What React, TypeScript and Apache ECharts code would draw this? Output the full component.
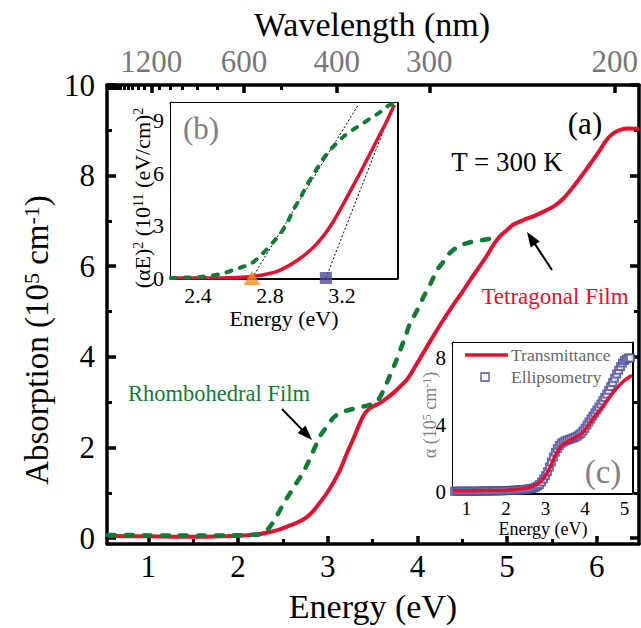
import React, { useEffect, useRef } from 'react';
import * as echarts from 'echarts';

// ---------- data ----------
const energyTicks = [1, 2, 3, 4, 5, 6];
const energyMinorTicks = [1.5, 2.5, 3.5, 4.5, 5.5];
const absTicks = [0, 2, 4, 6, 8, 10];
const absMinorTicks = [1, 3, 5, 7, 9];
const waveLabels = [1200, 600, 400, 300, 200];
const waveMinor = [2200, 2100, 2000, 1900, 1800, 1700, 1600, 1500, 1400, 1300, 1100, 1000, 900, 800, 700, 500];

const tetragonal = [
  [0.55, 0.05], [0.8, 0.04], [1.0, 0.04], [1.3, 0.03], [1.6, 0.03], [1.8, 0.04], [2.0, 0.05], [2.2, 0.08],
  [2.32, 0.12], [2.45, 0.18], [2.54, 0.25], [2.62, 0.31], [2.69, 0.37], [2.77, 0.47], [2.84, 0.6], [2.92, 0.8],
  [2.99, 0.99], [3.07, 1.25], [3.14, 1.51], [3.22, 1.9], [3.29, 2.21], [3.34, 2.45], [3.38, 2.63], [3.42, 2.77],
  [3.46, 2.85], [3.52, 2.92], [3.58, 2.98], [3.66, 3.09], [3.73, 3.2], [3.8, 3.33], [3.88, 3.49], [3.95, 3.7],
  [4.03, 3.97], [4.12, 4.27], [4.22, 4.6], [4.31, 4.88], [4.4, 5.15], [4.5, 5.43], [4.59, 5.7], [4.68, 5.96],
  [4.77, 6.22], [4.85, 6.48], [4.92, 6.66], [5.0, 6.8], [5.07, 6.92], [5.18, 7.02], [5.29, 7.1], [5.4, 7.2],
  [5.52, 7.32], [5.63, 7.5], [5.74, 7.76], [5.85, 8.05], [5.96, 8.35], [6.04, 8.58], [6.11, 8.79], [6.18, 8.93],
  [6.26, 9.01], [6.35, 9.04], [6.47, 9.03],
];
const rhombohedral = [
  [0.55, 0.07], [0.8, 0.07], [1.0, 0.06], [1.3, 0.06], [1.6, 0.06], [1.9, 0.06], [2.1, 0.07], [2.25, 0.08],
  [2.31, 0.15], [2.36, 0.26], [2.43, 0.48], [2.51, 0.77], [2.58, 0.99], [2.65, 1.21], [2.72, 1.43], [2.78, 1.66],
  [2.83, 1.88], [2.88, 2.1], [2.93, 2.3], [2.99, 2.46], [3.06, 2.65], [3.14, 2.77], [3.22, 2.82], [3.32, 2.87],
  [3.45, 2.93], [3.55, 3.02], [3.62, 3.25], [3.69, 3.57], [3.75, 3.85], [3.81, 4.16], [3.87, 4.47], [3.92, 4.75],
  [3.99, 5.0], [4.07, 5.33], [4.15, 5.63], [4.22, 5.92], [4.29, 6.1], [4.36, 6.29], [4.47, 6.45], [4.59, 6.53],
  [4.7, 6.57], [4.8, 6.6], [4.9, 6.64],
];

// inset (b): (alpha E)^2
const insetBTicksX = [2.4, 2.6, 2.8, 3.0, 3.2, 3.4];
const insetBLabelsX = [2.4, 2.8, 3.2];
const insetBTicksY = [0, 1.5, 3, 4.5, 6, 7.5, 9];
const insetBLabelsY = [0, 3, 6, 9];
const insetBTetragonal = [
  [2.25, 0], [2.4, 0], [2.55, 0.01], [2.62, 0.03], [2.7, 0.09], [2.77, 0.2], [2.84, 0.38], [2.9, 0.68],
  [2.95, 1.0], [3.0, 1.38], [3.05, 1.85], [3.1, 2.45], [3.15, 3.2], [3.2, 4.1], [3.25, 5.05], [3.3, 6.0],
  [3.35, 7.0], [3.4, 8.0], [3.45, 9.0], [3.49, 9.9],
];
const insetBRhombohedral = [
  [2.25, 0], [2.35, 0.03], [2.42, 0.07], [2.47, 0.13], [2.54, 0.27], [2.6, 0.47], [2.66, 0.68], [2.7, 0.86],
  [2.74, 1.2], [2.78, 1.62], [2.82, 2.08], [2.86, 2.57], [2.9, 3.25], [2.93, 3.9], [2.97, 4.6], [3.0, 5.23],
  [3.04, 5.9], [3.08, 6.57], [3.12, 7.15], [3.17, 7.71], [3.21, 8.1], [3.26, 8.47], [3.31, 8.8], [3.36, 9.14],
  [3.41, 9.47], [3.45, 9.8], [3.49, 10],
];
const tangentRhombo = [[2.7, 0], [3.29, 9.9]];
const tangentTetra = [[3.11, 0], [3.49, 10]];
const gapRhombo = [[2.7, 0]];
const gapTetra = [[3.11, 0]];

// inset (c): alpha
const insetCTicksX = [1, 1.5, 2, 2.5, 3, 3.5, 4, 4.5, 5];
const insetCLabelsX = [1, 2, 3, 4, 5];
const insetCTicksY = [0, 2, 4, 6, 8];
const insetCLabelsY = [0, 4, 8];
const transmittance = [
  [0.66, 0.08], [1.0, 0.08], [1.35, 0.1], [1.8, 0.1], [2.2, 0.15], [2.53, 0.24], [2.7, 0.38], [2.83, 0.54],
  [2.94, 0.8], [3.04, 1.13], [3.15, 1.65], [3.25, 2.2], [3.34, 2.55], [3.42, 2.8], [3.55, 3.0], [3.71, 3.2],
  [3.82, 3.35], [3.92, 3.5], [4.06, 3.9], [4.21, 4.4], [4.36, 4.85], [4.51, 5.3], [4.65, 5.75], [4.8, 6.2],
  [4.97, 6.6], [5.14, 6.9], [5.19, 6.95],
];
const ellipsometry = [
  [0.7, 0.05], [0.75, 0.05], [0.8, 0.05], [0.85, 0.05], [0.9, 0.05], [0.95, 0.05], [1.0, 0.05], [1.05, 0.05],
  [1.1, 0.05], [1.15, 0.05], [1.2, 0.06], [1.25, 0.06], [1.3, 0.06], [1.35, 0.07], [1.4, 0.07], [1.45, 0.07],
  [1.5, 0.07], [1.55, 0.07], [1.6, 0.07], [1.65, 0.07], [1.7, 0.08], [1.75, 0.08], [1.8, 0.08], [1.85, 0.08],
  [1.9, 0.09], [1.95, 0.09], [2.0, 0.1], [2.05, 0.1], [2.1, 0.1], [2.15, 0.11], [2.2, 0.11], [2.25, 0.12],
  [2.3, 0.13], [2.35, 0.14], [2.4, 0.15], [2.45, 0.16], [2.5, 0.17], [2.55, 0.18], [2.6, 0.2], [2.65, 0.22],
  [2.7, 0.25], [2.75, 0.3], [2.8, 0.37], [2.85, 0.46], [2.9, 0.6], [2.95, 0.78], [3.0, 0.98], [3.05, 1.22],
  [3.1, 1.5], [3.15, 1.8], [3.2, 2.1], [3.25, 2.38], [3.3, 2.6], [3.35, 2.78], [3.4, 2.92], [3.45, 3.0],
  [3.5, 3.06], [3.55, 3.1], [3.6, 3.14], [3.65, 3.18], [3.7, 3.23], [3.75, 3.28], [3.8, 3.34], [3.85, 3.42],
  [3.9, 3.52], [3.95, 3.65], [4.0, 3.82], [4.05, 4.0], [4.1, 4.18], [4.15, 4.36], [4.2, 4.54], [4.25, 4.72],
  [4.3, 4.9], [4.35, 5.08], [4.4, 5.26], [4.45, 5.45], [4.5, 5.65], [4.55, 5.86], [4.6, 6.08], [4.65, 6.3],
  [4.7, 6.55], [4.75, 6.8], [4.8, 7.05], [4.85, 7.28], [4.9, 7.5], [4.95, 7.7], [5.0, 7.85], [5.05, 7.95],
  [5.1, 8.0], [5.15, 8.0],
];

// ---------- styling ----------
const FONT = 'Liberation Serif';
const RED = '#e5102e';
const GREEN = '#0f7b36';
const PURPLE = '#4d4d9e';
const GRAY = '#808080';

type AxOpt = {
  grid: number; pos: string; min: number; max: number; ticks: number[]; tickLen: number; tickW: number;
  line?: number; labels?: number[]; fmt?: (v: number) => string; fontSize?: number; labelColor?: string; margin?: number;
};

function mkAxis(o: AxOpt) {
  return {
    type: 'value',
    gridIndex: o.grid,
    position: o.pos,
    min: o.min,
    max: o.max,
    splitLine: { show: false },
    axisLine: { show: !!o.line, onZero: false, lineStyle: { color: '#000', width: o.line || 1 } },
    axisTick: { show: true, inside: true, length: o.tickLen, customValues: o.ticks, lineStyle: { color: '#000', width: o.tickW } },
    axisLabel: o.labels
      ? {
          show: true, customValues: o.labels, formatter: o.fmt, color: o.labelColor || '#000',
          fontFamily: FONT, fontSize: o.fontSize || 31, margin: o.margin ?? 8,
        }
      : { show: false },
  };
}

function txt(text: string, x: number, y: number, size: number, fill = '#000', extra: any = {}) {
  return {
    type: 'text', x, y, z: 100, ...extra,
    style: {
      text, fill, fontFamily: FONT, fontSize: size,
      align: 'center', verticalAlign: 'middle', textAlign: 'center', textVerticalAlign: 'middle',
      ...(extra.style || {}),
    },
  };
}

function arrow(x1: number, y1: number, x2: number, y2: number, headLen = 15, headW = 11) {
  const dx = x2 - x1, dy = y2 - y1;
  const L = Math.hypot(dx, dy);
  const ux = dx / L, uy = dy / L;
  const bx = x2 - ux * headLen, by = y2 - uy * headLen;
  const px = -uy, py = ux;
  return [
    { type: 'line', z: 100, shape: { x1, y1, x2: bx + ux * 2, y2: by + uy * 2 }, style: { stroke: '#000', lineWidth: 2 } },
    {
      type: 'polygon', z: 100,
      shape: { points: [[x2, y2], [bx + (px * headW) / 2, by + (py * headW) / 2], [bx - (px * headW) / 2, by - (py * headW) / 2]] },
      style: { fill: '#000' },
    },
  ];
}

export default function App() {
  const ref = useRef<HTMLDivElement>(null);
  useEffect(() => {
    document.body.style.margin = '0';
    if (!ref.current) return;
    const chart = echarts.init(ref.current, undefined, { renderer: 'svg' });

    const mainX = { min: 0.54, max: 6.47 };
    const mainY = { min: -0.13, max: 10 };
    const bX = { min: 2.25, max: 3.505 };
    const bY = { min: 0, max: 10 };
    const cX = { min: 0.66, max: 5.19 };
    const cY = { min: -0.05, max: 8.9 };

    const toE = (w: number) => 1240 / w;

    const option: any = {
      animation: false,
      backgroundColor: '#fff',
      textStyle: { fontFamily: FONT },
      grid: [
        { left: 107, top: 85, width: 532, height: 459, outerBoundsMode: 'none', containLabel: false },
        { left: 171, top: 103, width: 226, height: 175, outerBoundsMode: 'none', containLabel: false, show: true, backgroundColor: '#fff', borderWidth: 0, z: 5 },
        { left: 453, top: 343, width: 179, height: 150, outerBoundsMode: 'none', containLabel: false, show: true, backgroundColor: '#fff', borderWidth: 0, z: 5 },
      ],
      xAxis: [
        mkAxis({ grid: 0, pos: 'bottom', ...mainX, ticks: energyTicks, tickLen: 8, tickW: 3.5, line: 3.5, labels: energyTicks, fmt: (v) => String(v), fontSize: 31, margin: 7 }),
        mkAxis({ grid: 0, pos: 'bottom', ...mainX, ticks: energyMinorTicks, tickLen: 5, tickW: 3 }),
        mkAxis({ grid: 0, pos: 'top', ...mainX, ticks: waveLabels.map(toE), tickLen: 8, tickW: 3.5, line: 3.5, labels: waveLabels.map(toE), fmt: (v) => String(Math.round(1240 / v)), fontSize: 31, labelColor: '#777', margin: 8 }),
        mkAxis({ grid: 0, pos: 'top', ...mainX, ticks: waveMinor.map(toE), tickLen: 5, tickW: 3 }),
        mkAxis({ grid: 1, pos: 'bottom', ...bX, ticks: insetBTicksX, tickLen: 5, tickW: 2.5, line: 3, labels: insetBLabelsX, fmt: (v) => v.toFixed(1), fontSize: 22, margin: 6 }),
        mkAxis({ grid: 1, pos: 'top', ...bX, ticks: insetBTicksX, tickLen: 5, tickW: 2.5, line: 3 }),
        mkAxis({ grid: 2, pos: 'bottom', ...cX, ticks: insetCTicksX, tickLen: 5, tickW: 2.5, line: 3, labels: insetCLabelsX, fmt: (v) => String(v), fontSize: 19, margin: 6 }),
        mkAxis({ grid: 2, pos: 'top', ...cX, ticks: insetCTicksX, tickLen: 5, tickW: 2.5, line: 3 }),
      ],
      yAxis: [
        mkAxis({ grid: 0, pos: 'left', ...mainY, ticks: absTicks, tickLen: 9, tickW: 3.5, line: 3.5, labels: absTicks, fmt: (v) => String(v), fontSize: 31, margin: 12 }),
        mkAxis({ grid: 0, pos: 'left', ...mainY, ticks: absMinorTicks, tickLen: 5, tickW: 3 }),
        mkAxis({ grid: 0, pos: 'right', ...mainY, ticks: absTicks, tickLen: 9, tickW: 3.5, line: 3.5 }),
        mkAxis({ grid: 0, pos: 'right', ...mainY, ticks: absMinorTicks, tickLen: 5, tickW: 3 }),
        mkAxis({ grid: 1, pos: 'left', ...bY, ticks: insetBTicksY, tickLen: 5, tickW: 2.5, line: 3, labels: insetBLabelsY, fmt: (v) => String(v), fontSize: 22, margin: 7 }),
        mkAxis({ grid: 1, pos: 'right', ...bY, ticks: insetBTicksY, tickLen: 5, tickW: 2.5, line: 3 }),
        mkAxis({ grid: 2, pos: 'left', ...cY, ticks: insetCTicksY, tickLen: 5, tickW: 2.5, line: 3, labels: insetCLabelsY, fmt: (v) => String(v), fontSize: 21, margin: 7 }),
        mkAxis({ grid: 2, pos: 'right', ...cY, ticks: insetCTicksY, tickLen: 5, tickW: 2.5, line: 3 }),
      ],
      series: [
        {
          name: 'Tetragonal Film', type: 'line', xAxisIndex: 0, yAxisIndex: 0, data: tetragonal, smooth: 0.3,
          symbol: 'none', lineStyle: { color: RED, width: 4 }, z: 3,
        },
        {
          name: 'Rhombohedral Film', type: 'line', xAxisIndex: 0, yAxisIndex: 0, data: rhombohedral, smooth: 0.3,
          symbol: 'none', lineStyle: { color: GREEN, width: 4.5, type: [7, 11], cap: 'round' }, z: 4,
        },
        {
          type: 'line', xAxisIndex: 4, yAxisIndex: 4, data: tangentRhombo, symbol: 'none',
          lineStyle: { color: '#000', width: 1, type: [2, 2] }, z: 6,
        },
        {
          type: 'line', xAxisIndex: 4, yAxisIndex: 4, data: tangentTetra, symbol: 'none',
          lineStyle: { color: '#000', width: 1, type: [2, 2] }, z: 6,
        },
        {
          type: 'line', xAxisIndex: 4, yAxisIndex: 4, data: insetBTetragonal, smooth: 0.3, symbol: 'none',
          lineStyle: { color: RED, width: 3.5 }, z: 7,
        },
        {
          type: 'line', xAxisIndex: 4, yAxisIndex: 4, data: insetBRhombohedral, smooth: 0.3, symbol: 'none',
          lineStyle: { color: GREEN, width: 4, type: [5, 9], cap: 'round' }, z: 7,
        },
        {
          type: 'scatter', xAxisIndex: 4, yAxisIndex: 4, data: gapRhombo, symbol: 'triangle', symbolSize: [17, 14],
          itemStyle: { color: '#f0901c' }, clip: false, z: 8,
        },
        {
          type: 'scatter', xAxisIndex: 4, yAxisIndex: 4, data: gapTetra, symbol: 'rect', symbolSize: 12,
          itemStyle: { color: '#4a4a9c' }, clip: false, z: 8,
        },
        {
          name: 'Ellipsometry', type: 'scatter', xAxisIndex: 6, yAxisIndex: 6, data: ellipsometry, symbol: 'emptyRect',
          symbolSize: 7, itemStyle: { color: PURPLE, borderColor: PURPLE, borderWidth: 1.2 }, clip: false, z: 6,
        },
        {
          name: 'Transmittance', type: 'line', xAxisIndex: 6, yAxisIndex: 6, data: transmittance, smooth: 0.3,
          symbol: 'none', lineStyle: { color: RED, width: 3.5 }, z: 7,
        },
      ],
      graphic: [
        txt('Wavelength (nm)', 372, 24, 34),
        txt('Energy (eV)', 373, 606, 34),
        txt('{n|Absorption (10}{s|5}{n| cm}{s|-1}{n|)}', 37, 340, 33, '#000', {
          rotation: Math.PI / 2,
          style: {
            rich: {
              n: { fontFamily: FONT, fontSize: 33, fill: '#000' },
              s: { fontFamily: FONT, fontSize: 22, fill: '#000', verticalAlign: 'top' },
            },
          },
        }),
        txt('(a)', 585, 123, 31),
        txt('T = 300 K', 507, 162, 27),
        txt('Tetragonal Film', 555, 296, 23, RED),
        txt('Rhombohedral Film', 219, 393, 22.5, GREEN),
        ...arrow(552, 270, 527, 232),
        ...arrow(282, 409, 312, 440),
        txt('(b)', 201, 128, 31, GRAY),
        txt('{n|(αE)}{s|2}{n| (10}{s|11}{n| (eV/cm)}{s|2}', 142, 198, 22, '#000', {
          rotation: Math.PI / 2,
          style: {
            rich: {
              n: { fontFamily: FONT, fontSize: 22, fill: '#000' },
              s: { fontFamily: FONT, fontSize: 14, fill: '#000', verticalAlign: 'top' },
            },
          },
        }),
        txt('Energy (eV)', 284, 318, 22),
        txt('(c)', 603, 472, 33, GRAY),
        txt('{n|α (10}{s|5}{n| cm}{s|-1}{n|)}', 430, 415, 18, GRAY, {
          rotation: Math.PI / 2,
          style: {
            rich: {
              n: { fontFamily: FONT, fontSize: 18, fill: GRAY },
              s: { fontFamily: FONT, fontSize: 12, fill: GRAY, verticalAlign: 'top' },
            },
          },
        }),
        txt('Energy (eV)', 543, 529, 18),
        { type: 'line', z: 100, shape: { x1: 465, y1: 355, x2: 508, y2: 355 }, style: { stroke: RED, lineWidth: 3.5 } },
        txt('Transmittance', 511, 355, 17.5, '#666', { style: { align: 'left', textAlign: 'left' } }),
        { type: 'rect', z: 100, shape: { x: 481, y: 373, width: 8, height: 8 }, style: { fill: '#fff', stroke: PURPLE, lineWidth: 1.3 } },
        txt('Ellipsometry', 511, 377, 17.5, '#666', { style: { align: 'left', textAlign: 'left' } }),
      ],
    };

    chart.setOption(option);
    return () => chart.dispose();
  }, []);

  return <div ref={ref} style={{ width: 641, height: 628 }} />;
}
